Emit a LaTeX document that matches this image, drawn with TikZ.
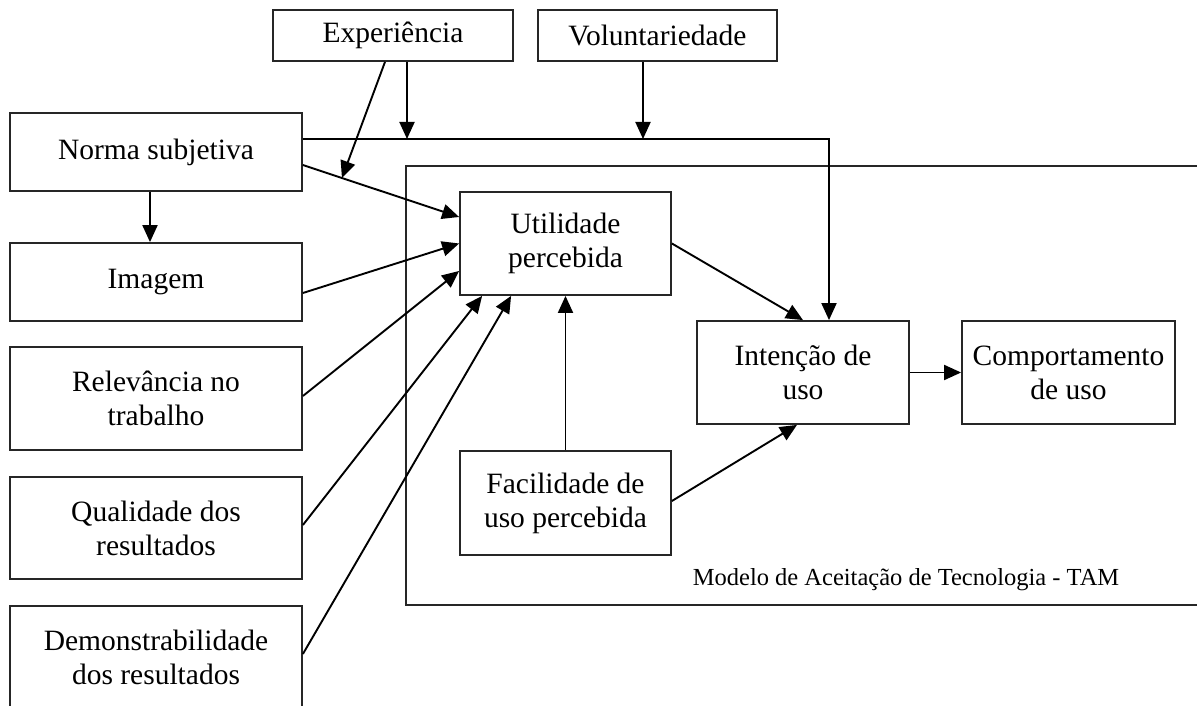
\documentclass[tikz,border=0pt]{standalone}
\usepackage{fontspec}
\setmainfont{Liberation Serif}
\usetikzlibrary{arrows.meta,calc}
\begin{document}
\begin{tikzpicture}[x=1pt,y=-1pt,
  box/.style={draw=black!85,line width=1.8pt,inner sep=0pt,align=center,font=\fontsize{29.5}{34}\selectfont},
  frame/.style={draw=black!85,line width=1.8pt,inner sep=0pt},
  conn/.style={line width=1.9pt,-{Triangle[length=17pt,width=15pt]}},
  lbl/.style={font=\fontsize{24.5}{28}\selectfont,inner sep=0pt}]
\useasboundingbox (0,0) rectangle (1197,706);
% TAM frame (right side runs off the page)
\node[frame,minimum width=844pt,minimum height=439pt] (tam) at (828,385.5) {};
\node[lbl] (tamlbl) at (906,580) {Modelo de Aceitação de Tecnologia - TAM};
% boxes
\node[box,minimum width=240pt,minimum height=51pt] (exp) at (393,35.5) {Experiência};
\node[box,minimum width=239pt,minimum height=51pt] (vol) at (657.5,35.5) {Voluntariedade};
\node[box,minimum width=292pt,minimum height=78pt] (norma) at (156,152) {Norma subjetiva};
\node[box,minimum width=292pt,minimum height=78pt] (imagem) at (156,282) {Imagem};
\node[box,minimum width=292pt,minimum height=103pt] (relev) at (156,398.5) {Relevância no\\trabalho};
\node[box,minimum width=292pt,minimum height=102pt] (qual) at (156,528) {Qualidade dos\\resultados};
\node[box,minimum width=292pt,minimum height=103pt] (demo) at (156,657.5) {Demonstrabilidade\\dos resultados};
\node[box,minimum width=211pt,minimum height=103pt] (util) at (565.5,243.5) {Utilidade\\percebida};
\node[box,minimum width=211pt,minimum height=104pt] (fac) at (565.5,503) {Facilidade de\\uso percebida};
\node[box,minimum width=212pt,minimum height=103pt] (int) at (803,372.5) {Intenção de\\uso};
\node[box,minimum width=213pt,minimum height=103pt] (comp) at (1068.5,372.5) {Comportamento\\de uso};
% helper coordinates (yshift is positive upwards)
\coordinate (hl) at ([yshift=13pt]norma.east);
\coordinate (ea) at ([xshift=14pt]exp.south);
\coordinate (va) at ([xshift=-14.5pt]vol.south);
% Norma subjetiva -> Intencao (moderated line)
\draw[conn] (hl) -| ([xshift=26pt]int.north);
% Norma -> Utilidade with moderation point
\draw[conn] ([yshift=-13pt]norma.east) -- coordinate[pos=0.25] (m1) ([yshift=26.5pt]util.west);
% Experiencia arrows
\draw[conn] ([xshift=-8pt]exp.south) -- (m1);
\draw[conn] (ea) -- (ea |- hl);
% Voluntariedade arrow
\draw[conn] (va) -- (va |- hl);
% Norma -> Imagem
\draw[conn] ([xshift=-6pt]norma.south) -- ([xshift=-6pt]imagem.north);
% determinants -> Utilidade
\draw[conn] ([yshift=-11pt]imagem.east) -- (util.west);
\draw[conn] ([yshift=2.5pt]relev.east) -- ([yshift=-27.5pt]util.west);
\draw[conn] ([yshift=3pt]qual.east) -- ([xshift=23pt]util.south west);
\draw[conn] ([yshift=3.5pt]demo.east) -- ([xshift=52pt]util.south west);
% TAM core
\draw[conn] (fac.north) -- (util.south);
\draw[conn] (util.east) -- (int.north);
\draw[conn] ([yshift=2pt]fac.east) -- ([xshift=-6pt]int.south);
\draw[conn] (int.east) -- (comp.west);
\end{tikzpicture}
\end{document}
